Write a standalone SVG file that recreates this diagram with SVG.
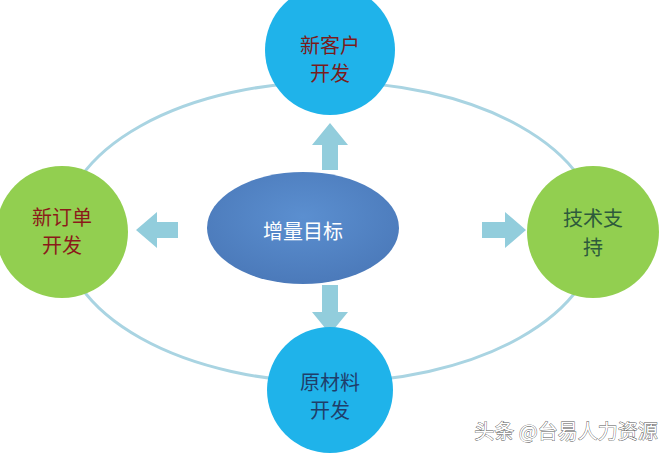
<svg xmlns="http://www.w3.org/2000/svg" width="660" height="455" viewBox="0 0 660 455">
<defs>
<style>
.t{font-family:"Noto Sans CJK SC","Noto Sans",sans-serif;font-size:20px;text-anchor:middle}
.arr{fill:#92cddc}
</style>
<radialGradient id="bg" cx="50%" cy="40%" r="65%"><stop offset="0" stop-color="#5b8fd0"/><stop offset="1" stop-color="#4a78b8"/></radialGradient>
</defs>
<rect width="660" height="455" fill="#fff"/>
<g id="connectors">
<ellipse cx="330" cy="232" rx="268" ry="150" fill="none" stroke="#a9d4e2" stroke-width="3"/>
<polygon class="arr" points="322,170 338,170 338,145 348,145 330,123 312,145 322,145"/>
<polygon class="arr" points="322,285 338,285 338,312 348,312 330,334 312,312 322,312"/>
<polygon class="arr" points="178,222 178,238 157,238 157,248 136,230 157,212 157,222"/>
<polygon class="arr" points="482,222 482,238 505,238 505,248 526,230 505,212 505,222"/>
</g>
<g id="center"><ellipse cx="303" cy="228" rx="96" ry="56" fill="url(#bg)"/>
<text class="t" x="303" y="239" font-size="28" fill="#fff">增量目标</text></g>
<g id="top"><circle cx="330" cy="50" r="65" fill="#1fb3ea"/>
<text class="t" x="330" y="53" fill="#7a1c1c">新客户</text><text class="t" x="330" y="81" fill="#7a1c1c">开发</text></g>
<g id="bottom"><circle cx="330" cy="390" r="63" fill="#1fb3ea"/>
<text class="t" x="330" y="390" fill="#1f3e6a">原材料</text><text class="t" x="330" y="418" fill="#1f3e6a">开发</text></g>
<g id="left"><circle cx="62" cy="232" r="66" fill="#92cf50"/>
<text class="t" x="62" y="225" fill="#8b1a1a">新订单</text><text class="t" x="62" y="253" fill="#8b1a1a">开发</text></g>
<g id="right"><circle cx="593" cy="232" r="66" fill="#92cf50"/>
<text class="t" x="593" y="226" fill="#2d5a3c">技术支</text><text class="t" x="593" y="255" fill="#2d5a3c">持</text></g>
<text class="t" x="566" y="439" font-size="14" fill="#fff" stroke="#555" stroke-width="0.8" paint-order="stroke">头条 @台易人力资源</text>
</svg>
